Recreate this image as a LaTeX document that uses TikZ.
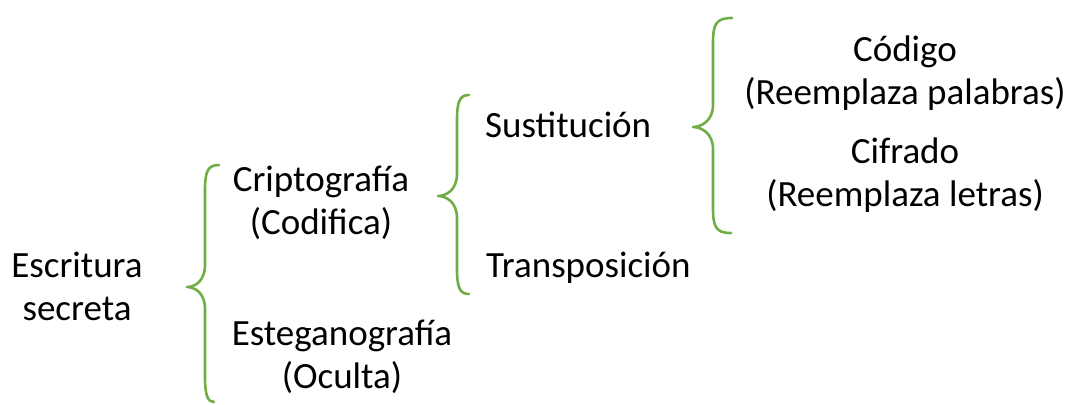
\documentclass[tikz,border=0pt]{standalone}
\usepackage{fontspec}
\setmainfont{Carlito}
\definecolor{bracegreen}{HTML}{70AD47}
\tikzset{
  lbl/.style={anchor=base, inner sep=0pt, font=\fontsize{37}{43}\selectfont, text=black},
  brc/.style={draw=bracegreen, line width=2.6pt, line cap=round, line join=round},
}
\newcommand{\mybrace}[7]{% xe, yt, xs, xt, ym, xb, yb
  \path[brc] (#1,#2) .. controls (#3+3,#2) and (#3,#2+6) .. (#3,#2+25)
    -- (#3,#5-22) .. controls (#3,#5-6) and (#4+8,#5) .. (#4,#5)
    .. controls (#4+8,#5) and (#3,#5+6) .. (#3,#5+22)
    -- (#3,#7-25) .. controls (#3,#7-6) and (#3+3,#7) .. (#6,#7);
}
\begin{document}
\begin{tikzpicture}[x=1pt,y=-1pt]
\useasboundingbox (0,0) rectangle (1070,404);
% texts (base anchors)
\node[lbl] (esc1) at (77,277) {Escritura};
\node[lbl] (esc2) at (77,320) {secreta};
\node[lbl] (cri1) at (321,191) {Criptografía};
\node[lbl] (cri2) at (321,234) {(Codifica)};
\node[lbl] (est1) at (342,345) {Esteganografía};
\node[lbl] (est2) at (342,388) {(Oculta)};
\node[lbl, anchor=base west] (sus) at (485,137) {Sustitución};
\node[lbl, anchor=base west] (tra) at (486,277) {Transposición};
\node[lbl] (cod1) at (905,61) {Código};
\node[lbl] (cod2) at (905,104) {(Reemplaza palabras)};
\node[lbl] (cif1) at (905,163) {Cifrado};
\node[lbl] (cif2) at (905,206) {(Reemplaza letras)};
% braces
\mybrace{219}{165}{205}{187}{287}{214}{402}
\mybrace{469}{95}{457}{438}{196}{469}{294}
\mybrace{732}{18}{713}{693}{127}{731}{233}
\end{tikzpicture}
\end{document}
